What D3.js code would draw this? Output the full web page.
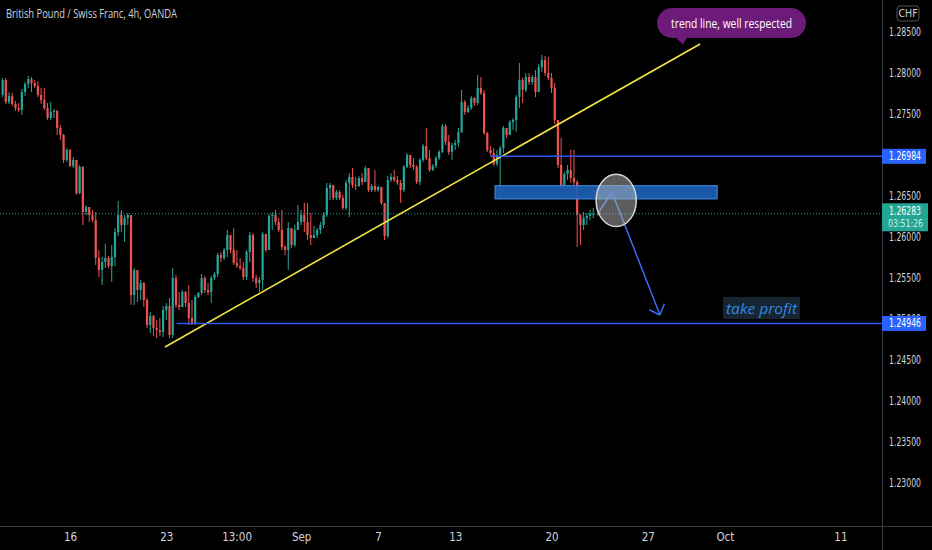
<!DOCTYPE html>
<html>
<head>
<meta charset="utf-8">
<script src="https://cdn.jsdelivr.net/npm/d3@7"></script>
<style>
  html, body { margin: 0; padding: 0; background: #000; }
  svg { display: block; }
</style>
</head>
<body>
<div id="chart"></div>
<script>
// GBPCHF 4h candles (index 0 = leftmost candle)
const firstOpen = 1.27732;
const closes = [
  1.27915, 1.27646, 1.27720, 1.27622, 1.27573, 1.27549, 1.27768, 1.27866, 1.27927, 1.27878,
  1.27841, 1.27732, 1.27671, 1.27573, 1.27451, 1.27524, 1.27537, 1.27329, 1.27244, 1.26939,
  1.27061, 1.26866, 1.26939, 1.26537, 1.26854, 1.26305, 1.26366, 1.26268, 1.26207, 1.25744,
  1.25598, 1.25695, 1.25744, 1.25646, 1.25756, 1.26061, 1.26268, 1.26146, 1.26232, 1.26268,
  1.25293, 1.25598, 1.25354, 1.25439, 1.25232, 1.24927, 1.25037, 1.24890, 1.24866, 1.24842,
  1.25110, 1.25159, 1.24805, 1.25500, 1.25171, 1.25146, 1.25329, 1.25195, 1.25012, 1.24951,
  1.25268, 1.25317, 1.25500, 1.25354, 1.25329, 1.25500, 1.25549, 1.25780, 1.25744, 1.25841,
  1.26024, 1.25841, 1.25683, 1.25646, 1.25622, 1.25512, 1.25817, 1.26024, 1.25500, 1.25439,
  1.25476, 1.26037, 1.25841, 1.26256, 1.26268, 1.26183, 1.26085, 1.25878, 1.25841, 1.26110,
  1.25902, 1.26085, 1.26183, 1.26268, 1.26183, 1.26024, 1.25988, 1.26024, 1.26085, 1.26146,
  1.26268, 1.26598, 1.26634, 1.26476, 1.26549, 1.26476, 1.26354, 1.26659, 1.26732, 1.26634,
  1.26622, 1.26719, 1.26671, 1.26841, 1.26573, 1.26622, 1.26573, 1.26610, 1.26415, 1.26012,
  1.26695, 1.26732, 1.26695, 1.26659, 1.26573, 1.26854, 1.27000, 1.26878, 1.26854, 1.26671,
  1.26939, 1.27110, 1.26963, 1.26817, 1.26866, 1.26963, 1.27037, 1.27354, 1.27159, 1.27037,
  1.27122, 1.27146, 1.27280, 1.27646, 1.27524, 1.27573, 1.27695, 1.27634, 1.27817, 1.27756,
  1.27268, 1.27061, 1.27024, 1.26890, 1.27000, 1.27085, 1.27329, 1.27244, 1.27402, 1.27427,
  1.27707, 1.27915, 1.27793, 1.27951, 1.27890, 1.27951, 1.27768, 1.28073, 1.28159, 1.28000,
  1.27939, 1.27817, 1.27427, 1.26878, 1.26634, 1.26768, 1.26817, 1.26719, 1.26671, 1.26268,
  1.26146, 1.26232, 1.26256, 1.26280, 1.26283
];
const highs = [
  1.27939, 1.27939, 1.27768, 1.27756, 1.27658, 1.27634, 1.27805, 1.27890, 1.27963, 1.27951,
  1.27915, 1.27902, 1.27817, 1.27817, 1.27634, 1.27646, 1.27561, 1.27549, 1.27366, 1.27256,
  1.27085, 1.27073, 1.26976, 1.26939, 1.26878, 1.26866, 1.26390, 1.26366, 1.26329, 1.26305,
  1.25841, 1.25756, 1.25915, 1.25768, 1.25902, 1.26110, 1.26439, 1.26329, 1.26268, 1.26293,
  1.26244, 1.25622, 1.25598, 1.25476, 1.25451, 1.25256, 1.25085, 1.25049, 1.24988, 1.25012,
  1.25159, 1.25195, 1.25256, 1.25622, 1.25537, 1.25329, 1.25354, 1.25342, 1.25415, 1.25232,
  1.25293, 1.25329, 1.25549, 1.25524, 1.25439, 1.25524, 1.25573, 1.25805, 1.25817, 1.25866,
  1.26085, 1.26024, 1.26110, 1.25841, 1.25744, 1.25695, 1.25841, 1.26061, 1.26049, 1.25537,
  1.25512, 1.26061, 1.26037, 1.26280, 1.26305, 1.26329, 1.26232, 1.26329, 1.25902, 1.26183,
  1.26110, 1.26146, 1.26390, 1.26329, 1.26415, 1.26415, 1.26293, 1.26134, 1.26110, 1.26183,
  1.26305, 1.26659, 1.26659, 1.26634, 1.26573, 1.26573, 1.26512, 1.26695, 1.26780, 1.26841,
  1.26732, 1.26744, 1.26780, 1.26866, 1.26841, 1.26646, 1.26817, 1.26622, 1.26598, 1.26415,
  1.26744, 1.26780, 1.26817, 1.26744, 1.26695, 1.26878, 1.27024, 1.27000, 1.26963, 1.26878,
  1.26963, 1.27134, 1.27329, 1.27061, 1.26890, 1.26988, 1.27061, 1.27378, 1.27378, 1.27244,
  1.27146, 1.27183, 1.27329, 1.27793, 1.27671, 1.27610, 1.27720, 1.27707, 1.27976, 1.27951,
  1.27793, 1.27280, 1.27110, 1.27085, 1.27061, 1.27110, 1.27354, 1.27329, 1.27427, 1.27451,
  1.27732, 1.28122, 1.27939, 1.28000, 1.28000, 1.27976, 1.28037, 1.28110, 1.28220, 1.28207,
  1.28195, 1.28000, 1.27878, 1.27427, 1.27207, 1.26793, 1.26878, 1.27061, 1.27061, 1.26695,
  1.26280, 1.26305, 1.26293, 1.26329, 1.26354
];
const lows = [
  1.27707, 1.27622, 1.27622, 1.27598, 1.27537, 1.27524, 1.27488, 1.27720, 1.27817, 1.27768,
  1.27817, 1.27707, 1.27622, 1.27549, 1.27427, 1.27427, 1.27451, 1.27244, 1.27183, 1.26902,
  1.26915, 1.26854, 1.26841, 1.26512, 1.26524, 1.26146, 1.26268, 1.26183, 1.26183, 1.25659,
  1.25512, 1.25415, 1.25622, 1.25622, 1.25451, 1.25646, 1.26012, 1.26061, 1.25939, 1.26146,
  1.25171, 1.25171, 1.25207, 1.25232, 1.25146, 1.24890, 1.24829, 1.24793, 1.24768, 1.24793,
  1.24780, 1.24988, 1.24768, 1.24768, 1.25134, 1.25110, 1.25171, 1.25146, 1.24927, 1.24927,
  1.24927, 1.25256, 1.25293, 1.25317, 1.25293, 1.25195, 1.25476, 1.25512, 1.25695, 1.25720,
  1.25756, 1.25805, 1.25659, 1.25622, 1.25598, 1.25476, 1.25476, 1.25695, 1.25451, 1.25378,
  1.25329, 1.25354, 1.25817, 1.25841, 1.26085, 1.26146, 1.26061, 1.25841, 1.25780, 1.25598,
  1.25866, 1.25878, 1.26085, 1.26146, 1.26061, 1.25963, 1.25902, 1.25988, 1.25988, 1.26037,
  1.26110, 1.26244, 1.26451, 1.26451, 1.26451, 1.26451, 1.26329, 1.26329, 1.26244, 1.26598,
  1.26573, 1.26610, 1.26634, 1.26671, 1.26549, 1.26549, 1.26549, 1.26549, 1.26390, 1.25963,
  1.25988, 1.26671, 1.26671, 1.26634, 1.26415, 1.26549, 1.26841, 1.26841, 1.26817, 1.26646,
  1.26634, 1.26915, 1.26939, 1.26793, 1.26805, 1.26841, 1.26939, 1.27024, 1.27122, 1.27000,
  1.26939, 1.27061, 1.27097, 1.27268, 1.27488, 1.27512, 1.27549, 1.27598, 1.27610, 1.27732,
  1.27244, 1.27037, 1.27000, 1.26866, 1.26866, 1.26488, 1.27024, 1.27207, 1.27244, 1.27305,
  1.27280, 1.27573, 1.27634, 1.27768, 1.27854, 1.27854, 1.27707, 1.27768, 1.28012, 1.27963,
  1.27915, 1.27756, 1.27378, 1.26841, 1.26598, 1.26585, 1.26695, 1.26659, 1.26634, 1.25878,
  1.25902, 1.26085, 1.26146, 1.26207, 1.26232
];

// axis labels (positions are candle indices)
const timeTicks = [21, 51, 72.9, 93, 117, 141, 171, 201, 225, 261];
const timeLabels = ["16", "23", "13:00", "Sep", "7", "13", "20", "27", "Oct", "11"];
const priceTicks = [1.23, 1.235, 1.24, 1.245, 1.25, 1.255, 1.26, 1.265, 1.27, 1.275, 1.28, 1.285];

// drawings on the chart
const levelPrices = [1.26984, 1.24946];
const levelStarts = [151.8, 54.2];
const lastPrice = 1.26283;
const countdown = "03:51:26";
const trendPoints = [[50.6, 1.24659], [217.3, 1.28354]];
const zoneIdx = [153.4, 222.6];
const zonePrice = [1.26464, 1.26626];
const arrowPoints = [[185.2, 1.26268], [189.8, 1.26549], [204.8, 1.25049]];
const ellipseIdx = [184.9, 197.4];
const ellipsePrice = [1.26127, 1.26766];
const noteText = "trend line, well respected";
const targetText = "take profit";

const W = 932, H = 550;
const plotRight = 882, plotBottom = 526;
const axisFont = "'Liberation Sans Narrow', 'DejaVu Sans Condensed', 'Roboto Condensed', 'Liberation Sans', sans-serif";
const textFont = "'Open Sans', 'DejaVu Sans', sans-serif";

const svg = d3.select("#chart").append("svg")
  .attr("width", W).attr("height", H)
  .style("background", "#000");

const x = d3.scaleLinear().domain([0, 261]).range([2.6, 840.4]);
const y = d3.scaleLinear().domain([1.23, 1.285]).range([483, 32]);
const fmt = d3.format(".5f");

const candles = closes.map((c, i) => ({
  i: i,
  o: i === 0 ? firstOpen : closes[i - 1],
  h: highs[i], l: lows[i], c: c
}));

svg.append("clipPath").attr("id", "clip")
  .append("rect").attr("width", plotRight).attr("height", plotBottom);
const plot = svg.append("g").attr("clip-path", "url(#clip)");

const up = "#26a69a", down = "#ef5350";

// candles
const cg = plot.append("g");
cg.selectAll("line.wick").data(candles).enter().append("line")
  .attr("class", "wick")
  .attr("x1", d => x(d.i)).attr("x2", d => x(d.i))
  .attr("y1", d => y(d.h)).attr("y2", d => y(d.l))
  .attr("stroke", d => d.c >= d.o ? up : down)
  .attr("stroke-width", 1);
cg.selectAll("rect.body").data(candles).enter().append("rect")
  .attr("class", "body")
  .attr("x", d => x(d.i) - 1.1)
  .attr("width", 2.2)
  .attr("y", d => y(Math.max(d.o, d.c)))
  .attr("height", d => Math.max(1, Math.abs(y(d.o) - y(d.c))))
  .attr("fill", d => d.c >= d.o ? up : down);

// current price dotted line
plot.append("line")
  .attr("x1", 0).attr("x2", plotRight)
  .attr("y1", y(lastPrice)).attr("y2", y(lastPrice))
  .attr("stroke", up).attr("stroke-width", 1)
  .attr("stroke-dasharray", "1,2");

// trend line
plot.append("line")
  .attr("x1", x(trendPoints[0][0])).attr("y1", y(trendPoints[0][1]))
  .attr("x2", x(trendPoints[1][0])).attr("y2", y(trendPoints[1][1]))
  .attr("stroke", "#f2e640").attr("stroke-width", 1.6);

// horizontal levels
plot.selectAll("line.level").data(levelPrices).enter().append("line")
  .attr("class", "level")
  .attr("x1", (d, k) => x(levelStarts[k])).attr("x2", plotRight)
  .attr("y1", d => y(d)).attr("y2", d => y(d))
  .attr("stroke", "#3056f0").attr("stroke-width", 1.6);

// zone
plot.append("rect")
  .attr("x", x(zoneIdx[0])).attr("width", x(zoneIdx[1]) - x(zoneIdx[0]))
  .attr("y", y(zonePrice[1])).attr("height", y(zonePrice[0]) - y(zonePrice[1]))
  .attr("fill", "#1d5fb6").attr("fill-opacity", 0.92)
  .attr("stroke", "#3f8fe6").attr("stroke-width", 1);

// arrow path + head
const ap = arrowPoints.map(p => [x(p[0]), y(p[1])]);
plot.append("path")
  .attr("d", d3.line()(ap))
  .attr("fill", "none").attr("stroke", "#3a6cf4").attr("stroke-width", 1.5);
const tip = ap[ap.length - 1], prev = ap[ap.length - 2];
const ang = Math.atan2(tip[1] - prev[1], tip[0] - prev[0]);
const headLen = 12, headAng = Math.PI / 4.2;
[ang + Math.PI - headAng, ang + Math.PI + headAng].forEach(a => {
  plot.append("line")
    .attr("x1", tip[0]).attr("y1", tip[1])
    .attr("x2", tip[0] + headLen * Math.cos(a)).attr("y2", tip[1] + headLen * Math.sin(a))
    .attr("stroke", "#3a6cf4").attr("stroke-width", 1.5);
});

// ellipse
const ex0 = x(ellipseIdx[0]), ex1 = x(ellipseIdx[1]);
const ey0 = y(ellipsePrice[1]), ey1 = y(ellipsePrice[0]);
plot.append("ellipse")
  .attr("cx", (ex0 + ex1) / 2).attr("cy", (ey0 + ey1) / 2)
  .attr("rx", (ex1 - ex0) / 2).attr("ry", (ey1 - ey0) / 2)
  .attr("fill", "#b8b8b8").attr("fill-opacity", 0.5)
  .attr("stroke", "#d8d8d8").attr("stroke-width", 1.5);

// take profit label
const tp = plot.append("g").attr("transform", "translate(723,297)");
tp.append("rect").attr("width", 77).attr("height", 22).attr("fill", "#172432");
tp.append("text").attr("x", 38.5).attr("y", 16.5)
  .attr("text-anchor", "middle")
  .attr("font-family", textFont)
  .attr("font-style", "italic").attr("font-size", 15)
  .attr("textLength", 71).attr("lengthAdjust", "spacingAndGlyphs")
  .attr("fill", "#2f8be0").text(targetText);

// purple callout
const note = svg.append("g").attr("transform", "translate(657,8)");
note.append("rect").attr("width", 149).attr("height", 30).attr("rx", 15)
  .attr("fill", "#6c1b78");
note.append("path").attr("d", "M17,28 L31,28 L26,36.5 Z").attr("fill", "#6c1b78");
note.append("text").attr("x", 74.5).attr("y", 19.5)
  .attr("text-anchor", "middle")
  .attr("font-family", textFont)
  .attr("font-size", 12.5).attr("fill", "#fff")
  .attr("textLength", 121).attr("lengthAdjust", "spacingAndGlyphs")
  .text(noteText);

// title
svg.append("text").attr("x", 6).attr("y", 18)
  .attr("font-family", textFont)
  .attr("font-size", 12.5).attr("fill", "#d1d4dc")
  .attr("textLength", 171).attr("lengthAdjust", "spacingAndGlyphs")
  .text("British Pound / Swiss Franc, 4h, OANDA");

// separators
svg.append("line").attr("x1", plotRight + 0.5).attr("x2", plotRight + 0.5)
  .attr("y1", 0).attr("y2", H).attr("stroke", "#3a3d45");
svg.append("line").attr("x1", 0).attr("x2", W)
  .attr("y1", plotBottom + 0.5).attr("y2", plotBottom + 0.5).attr("stroke", "#3a3d45");

// price axis
const yAxis = svg.append("g")
  .attr("transform", "translate(" + plotRight + ",0)")
  .call(d3.axisRight(y).tickValues(priceTicks).tickFormat(fmt).tickSize(0).tickPadding(7));
yAxis.attr("font-family", axisFont).attr("font-size", 11.5);
yAxis.select(".domain").remove();
yAxis.selectAll("text").attr("fill", "#d1d4dc")
  .attr("textLength", 32).attr("lengthAdjust", "spacingAndGlyphs");

// time axis
const xAxis = svg.append("g")
  .attr("transform", "translate(0," + plotBottom + ")")
  .call(d3.axisBottom(x).tickValues(timeTicks).tickFormat((d, k) => timeLabels[k]).tickSize(0).tickPadding(7));
xAxis.attr("font-family", axisFont).attr("font-size", 11.5);
xAxis.select(".domain").remove();
xAxis.selectAll("text").attr("fill", "#d1d4dc");

// currency badge
const cur = svg.append("g").attr("transform", "translate(897,6)")
  .attr("font-family", axisFont);
cur.append("rect").attr("width", 22).attr("height", 15).attr("rx", 3)
  .attr("fill", "#000").attr("stroke", "#50535e");
cur.append("text").attr("x", 11).attr("y", 11.3).attr("text-anchor", "middle")
  .attr("font-size", 10.5).attr("fill", "#d1d4dc").text("CHF");

// level price labels
const tags = svg.append("g").attr("font-family", axisFont).attr("font-size", 11.5);
levelPrices.forEach(p => {
  const g = tags.append("g").attr("transform", "translate(" + plotRight + "," + (y(p) - 7.5) + ")");
  g.append("rect").attr("width", 44).attr("height", 15).attr("fill", "#2962ff");
  g.append("text").attr("x", 7).attr("y", 11.5)
    .attr("textLength", 32).attr("lengthAdjust", "spacingAndGlyphs")
    .attr("fill", "#fff").text(fmt(p));
});

// last price label
const lp = tags.append("g").attr("transform", "translate(" + plotRight + "," + (y(lastPrice) - 10.5) + ")");
lp.append("rect").attr("width", 46).attr("height", 28).attr("fill", "#22a592");
lp.append("text").attr("x", 7).attr("y", 11.5)
  .attr("textLength", 32).attr("lengthAdjust", "spacingAndGlyphs")
  .attr("fill", "#fff").text(fmt(lastPrice));
lp.append("text").attr("x", 6).attr("y", 24)
  .attr("font-size", 11)
  .attr("textLength", 35).attr("lengthAdjust", "spacingAndGlyphs")
  .attr("fill", "#cdeee8").text(countdown);
</script>
</body>
</html>
